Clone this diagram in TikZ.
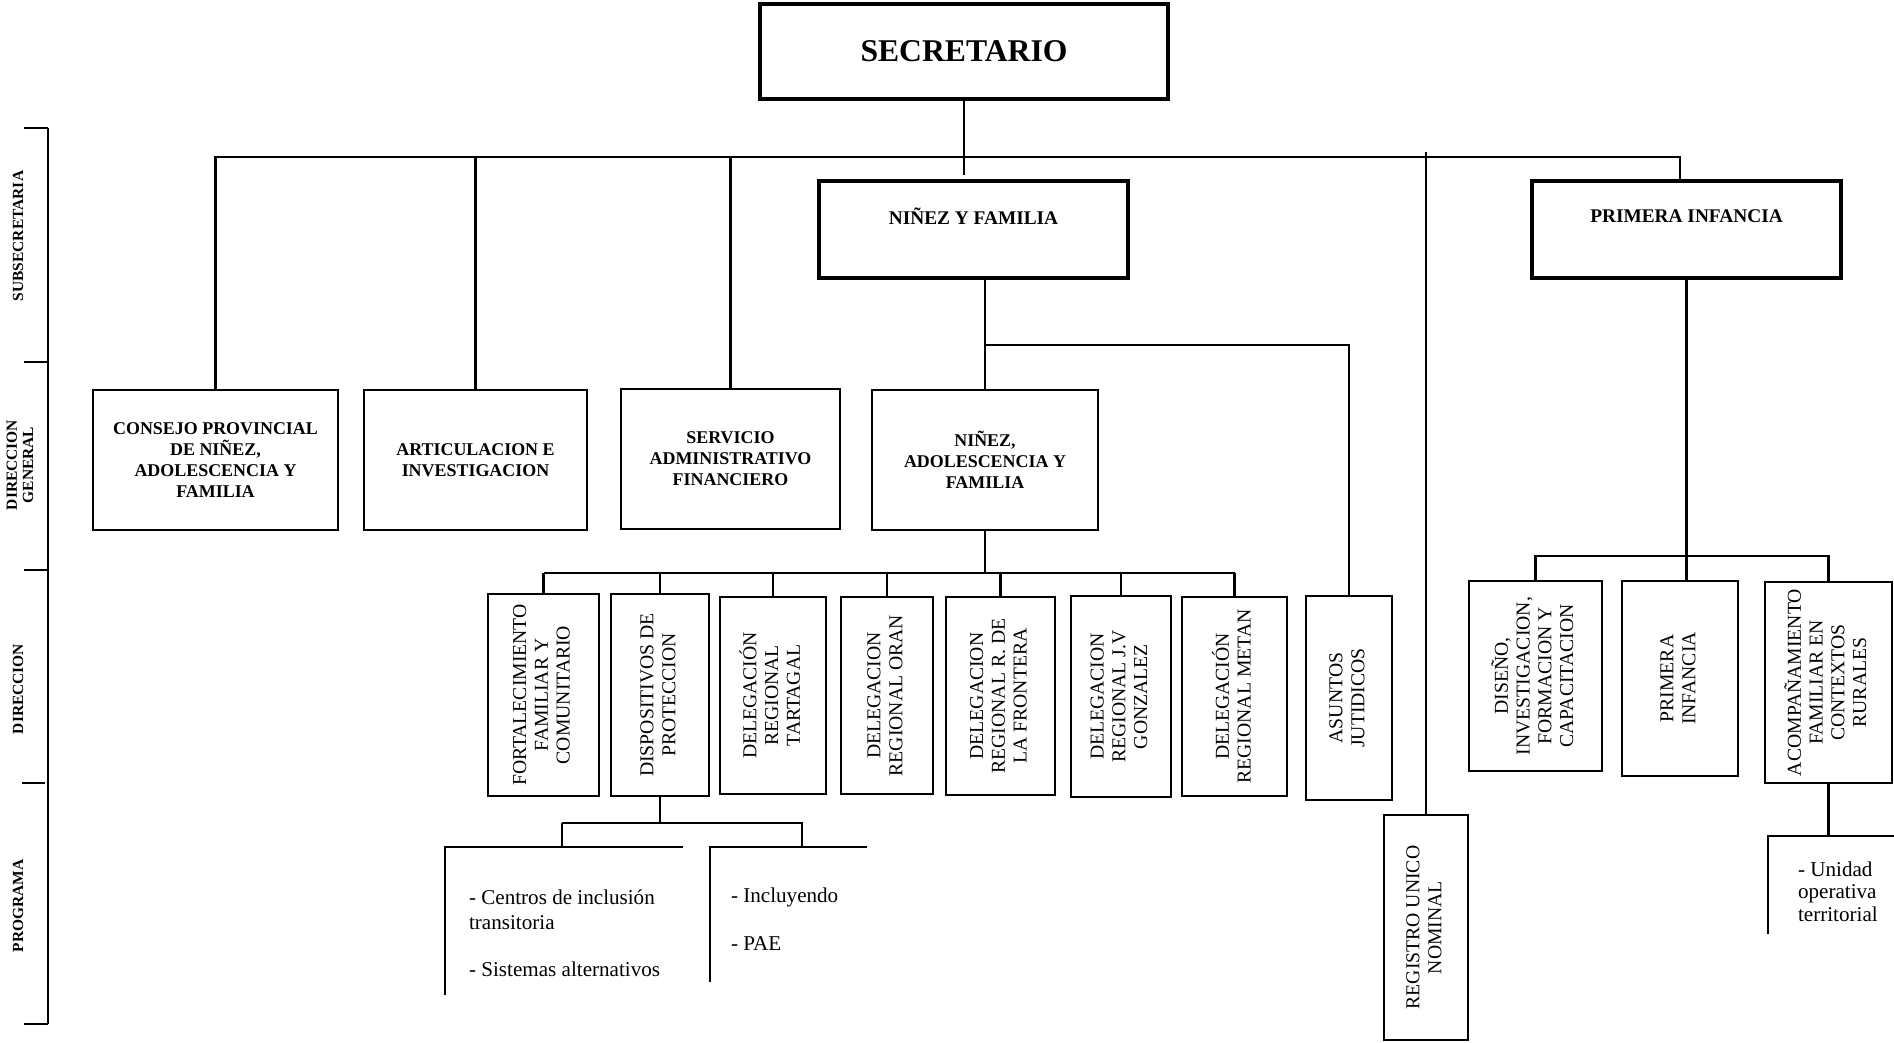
\documentclass[tikz,border=0pt]{standalone}
\usepackage{fontspec}
\setmainfont{Liberation Serif}
\usepackage{graphicx}
\usetikzlibrary{calc}

\newcommand{\boxfont}{\fontsize{5.1}{6}\selectfont\bfseries}
\newcommand{\headfont}{\fontsize{5.5}{6.5}\selectfont\bfseries}
\newcommand{\vfont}{\fontsize{5.6}{6.2}\selectfont}
\newcommand{\progfont}{\fontsize{6}{7}\selectfont}
\newcommand{\sidefont}{\fontsize{4.4}{4.6}\selectfont\bfseries}
\newcommand{\vtext}[1]{\rotatebox{90}{\vfont\begin{tabular}{@{}c@{}}#1\end{tabular}}}

\begin{document}
\begin{tikzpicture}[x=0.01cm, y=-0.01cm, line width=0.6pt,
  box/.style={draw, inner sep=0pt, align=center, font=\boxfont},
  thickbox/.style={draw, line width=1.1pt, inner sep=0pt},
  vbox/.style={draw, inner sep=0pt},
  prog/.style={inner sep=0pt, align=left, font=\progfont},
  side/.style={inner sep=0pt, rotate=90, align=center, font=\sidefont}]
\useasboundingbox (0,0) rectangle (1894,1042);

% niveles
\draw (48,128) -- (48,1024);
\foreach \y in {128,362,570,1024} \draw (24,\y) -- (48,\y);
\draw (22,783) -- (45,783);
\node[side] (lsub) at (18,236) {SUBSECRETARIA};
\node[side] (ldg) at (20,465) {DIRECCION\\GENERAL};
\node[side] (ldir) at (18,689) {DIRECCION};
\node[side] (lprog) at (18,906) {PROGRAMA};

% secretario y subsecretarias
\node[thickbox, minimum width=4.08cm, minimum height=0.95cm, font=\fontsize{9}{10}\selectfont\bfseries] (sec) at (964,51.5) {SECRETARIO};
\node[thickbox, minimum width=3.09cm, minimum height=0.97cm, label={[font=\headfont, yshift=0.13cm]center:NIÑEZ Y FAMILIA}] (nyf) at (973.5,229.5) {};
\node[thickbox, minimum width=3.09cm, minimum height=0.97cm, label={[font=\headfont, yshift=0.135cm]center:PRIMERA INFANCIA}] (pi) at (1686.5,229.5) {};

% direcciones generales
\node[box, minimum width=2.45cm, minimum height=1.40cm] (cons) at (215.5,460) {CONSEJO PROVINCIAL\\DE NIÑEZ,\\ADOLESCENCIA Y\\FAMILIA};
\node[box, minimum width=2.23cm, minimum height=1.40cm] (arti) at (475.5,460) {ARTICULACION E\\INVESTIGACION};
\node[box, minimum width=2.19cm, minimum height=1.40cm] (serv) at (730.5,459) {SERVICIO\\ADMINISTRATIVO\\FINANCIERO};
\node[box, minimum width=2.26cm, minimum height=1.40cm] (nadol) at (985,460) {NIÑEZ,\\ADOLESCENCIA Y\\FAMILIA};

% direcciones
\node[vbox, minimum width=1.11cm, minimum height=2.02cm] (fort) at (543.5,695) {\vtext{FORTALECIMIENTO\\FAMILIAR Y\\COMUNITARIO}};
\node[vbox, minimum width=0.98cm, minimum height=2.02cm] (disp) at (660,695) {\vtext{DISPOSITIVOS DE\\PROTECCION}};
\node[vbox, minimum width=1.06cm, minimum height=1.97cm] (tart) at (773,695.5) {\vtext{DELEGACIÓN\\REGIONAL\\TARTAGAL}};
\node[vbox, minimum width=0.92cm, minimum height=1.97cm] (oran) at (887,695.5) {\vtext{DELEGACION\\REGIONAL ORAN}};
\node[vbox, minimum width=1.09cm, minimum height=1.98cm] (rfro) at (1000.5,696) {\vtext{DELEGACION\\REGIONAL R. DE\\LA FRONTERA}};
\node[vbox, minimum width=1.00cm, minimum height=2.01cm] (jvg) at (1121,696.5) {\vtext{DELEGACION\\REGIONAL J.V\\GONZALEZ}};
\node[vbox, minimum width=1.05cm, minimum height=1.99cm] (meta) at (1234.5,696.5) {\vtext{DELEGACIÓN\\REGIONAL METAN}};
\node[vbox, minimum width=0.86cm, minimum height=2.04cm] (asun) at (1349,698) {\vtext{ASUNTOS\\JUTIDICOS}};
\node[vbox, minimum width=1.33cm, minimum height=1.90cm] (dis) at (1535.5,676) {\vtext{DISEÑO,\\INVESTIGACION,\\FORMACION Y\\CAPACITACION}};
\node[vbox, minimum width=1.16cm, minimum height=1.95cm] (pinf) at (1680,678.5) {\vtext{PRIMERA\\INFANCIA}};
\node[vbox, minimum width=1.27cm, minimum height=2.01cm] (acomp) at (1828.5,682.5) {\vtext{ACOMPAÑAMIENTO\\FAMILIAR EN\\CONTEXTOS\\RURALES}};
\node[vbox, minimum width=0.84cm, minimum height=2.25cm] (reg) at (1426,927.5) {\vtext{REGISTRO UNICO\\NOMINAL}};

% programas
\node[prog, anchor=north west] (cent) at (468,889) {- Centros de inclusión\\transitoria\\[6.5pt]- Sistemas alternativos};
\node[prog, anchor=north west] (incl) at (730,887) {- Incluyendo\\[6.5pt]- PAE};
\node[prog, anchor=north west, font=\fontsize{6}{6.3}\selectfont] (unid) at (1797,861) {- Unidad\\operativa\\territorial};

% lineas
\coordinate (top) at (964,157);
\draw (sec.south) -- ($(sec.south |- nyf.north)+(0,-4)$);
\draw (cons.north) -- (cons.north |- top) -- (pinf.north |- top) -- (pinf.north |- pi.north);
\foreach \n in {arti,serv} \draw (\n.north) -- (\n.north |- top);
\draw (reg.north) -- ($(reg.north |- top)+(0,-5)$);
\draw (nadol.north |- nyf.south) -- (nadol.north);
\coordinate (jur) at (985,345);
\draw (jur) -| (asun.north);
\coordinate (dirbus) at (985,573);
\draw (nadol.south) -- (nadol.south |- dirbus);
\draw (fort.north |- dirbus) -- (meta.north |- dirbus);
\foreach \n in {fort,disp,tart,oran,rfro,jvg,meta} \draw (\n.north) -- (\n.north |- dirbus);
\coordinate (pibus) at (1686,556);
\draw (pi.south) -- (pi.south |- pinf.north);
\draw (dis.north) -- (dis.north |- pibus) -- (acomp.north |- pibus) -- (acomp.north);

\coordinate (pbus) at (660,823);
\coordinate (pl) at (562,847);
\coordinate (pr) at (802,847);
\draw (disp.south) -- (disp.south |- pbus);
\draw (pl |- pbus) -| (pr);
\draw (pl |- pbus) -- (pl);
\coordinate (cenl) at (445,847);
\coordinate (incl) at (710,847);
\draw (445,995) -- (cenl) -- (683,847);
\draw (710,982) -- (incl) -- (867,847);

\coordinate (ub) at (1768,836);
\draw (acomp.south) -- (acomp.south |- ub);
\draw (1768,934) -- (ub) -- (1894,836);
\end{tikzpicture}
\end{document}
